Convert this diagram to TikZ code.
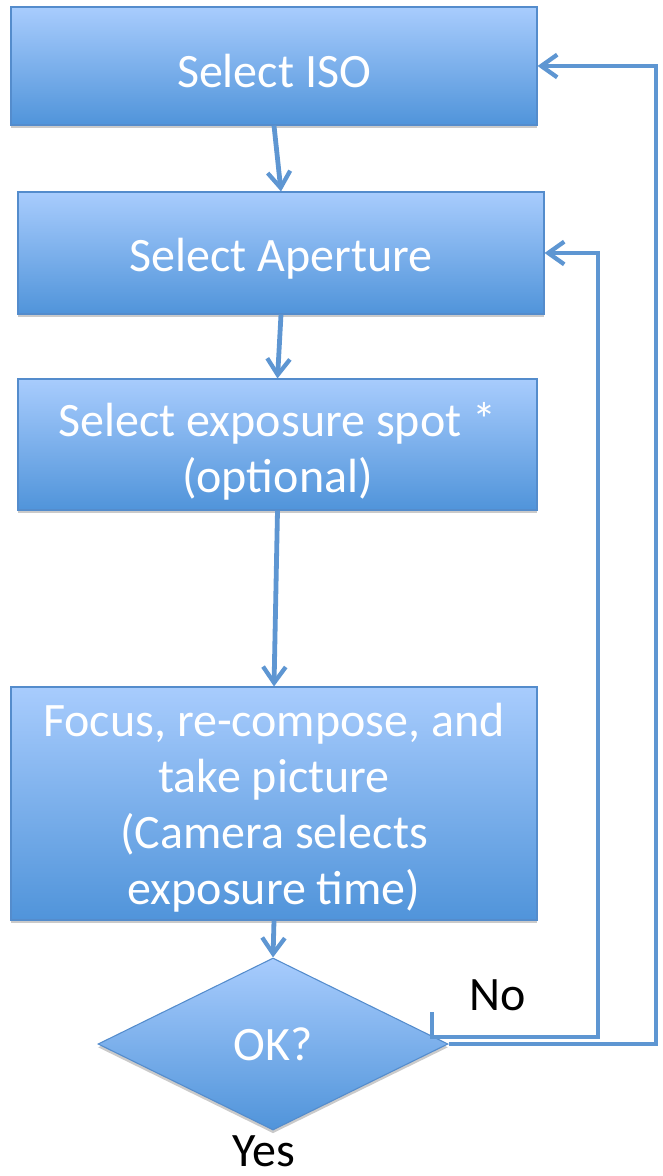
\documentclass[tikz,border=0pt]{standalone}
\usepackage{fontspec}
\setmainfont{Carlito}
\usetikzlibrary{arrows.meta,shapes.geometric,shadows}
\definecolor{linec}{RGB}{94,150,210}
\definecolor{boxtop}{RGB}{168,204,253}
\definecolor{boxbot}{RGB}{80,148,218}
\definecolor{boxedge}{RGB}{84,140,204}
\tikzset{
  box/.style={rectangle, draw=boxedge, line width=0.8pt, top color=boxtop, bottom color=boxbot,
    text=white, align=center, inner sep=0pt, font=\fontsize{36}{42}\selectfont,
    drop shadow={shadow xshift=0pt, shadow yshift=-2.5pt, opacity=0.35, fill=black!60}},
  dia/.style={diamond, draw=boxedge, line width=0.8pt, top color=boxtop, bottom color=boxbot,
    text=white, align=center, inner sep=0pt, font=\fontsize{36}{42}\selectfont,
    drop shadow={shadow xshift=0pt, shadow yshift=-2.5pt, opacity=0.35, fill=black!60}},
  lbl/.style={text=black, font=\fontsize{36}{42}\selectfont, inner sep=0pt},
  arr/.style={draw=linec, line width=3.6pt, -{Straight Barb[length=12pt,width=17pt,line width=3.2pt]}},
  conn/.style={draw=linec, line width=3.6pt}
}
\begin{document}
\begin{tikzpicture}[x=0.75pt,y=-0.75pt]
\useasboundingbox (0,0) rectangle (662,1176);
\node[box, minimum width=394.5pt, minimum height=88.5pt] (b1) at (274,66) {\rule{0pt}{32pt}Select ISO};
\node[box, minimum width=394.5pt, minimum height=91.5pt] (b2) at (281,253) {\rule{0pt}{33pt}Select Aperture};
\node[box, minimum width=389.25pt, minimum height=98.25pt] (b3) at (277.5,444.5) {\rule{0pt}{35.5pt}Select exposure spot *\\(optional)};
\node[box, minimum width=394.5pt, minimum height=174.75pt] (b4) at (274,803.5) {\rule{0pt}{31pt}Focus, re-compose, and\\take picture\\(Camera selects\\exposure time)};
\node[dia, minimum width=262.5pt, minimum height=129pt] (d) at (273,1044) {OK?};
\node[lbl] (no) at (498,995) {No};
\node[lbl] (yes) at (264,1151) {Yes};
\coordinate (or) at (656,1044);
\coordinate (is) at (432,1012);
\coordinate (ic) at (598,1037);
\draw[arr] (b1.south) -- (b2.north);
\draw[arr] (b2.south) -- (b3.north);
\draw[arr] (b3.south) -- (b4.north);
\draw[arr] (b4.south) -- (d.north);
\draw[arr] (is) |- (ic) |- (b2.east);
\draw[arr] (d.east) -- (or) |- (b1.east);
\end{tikzpicture}
\end{document}
